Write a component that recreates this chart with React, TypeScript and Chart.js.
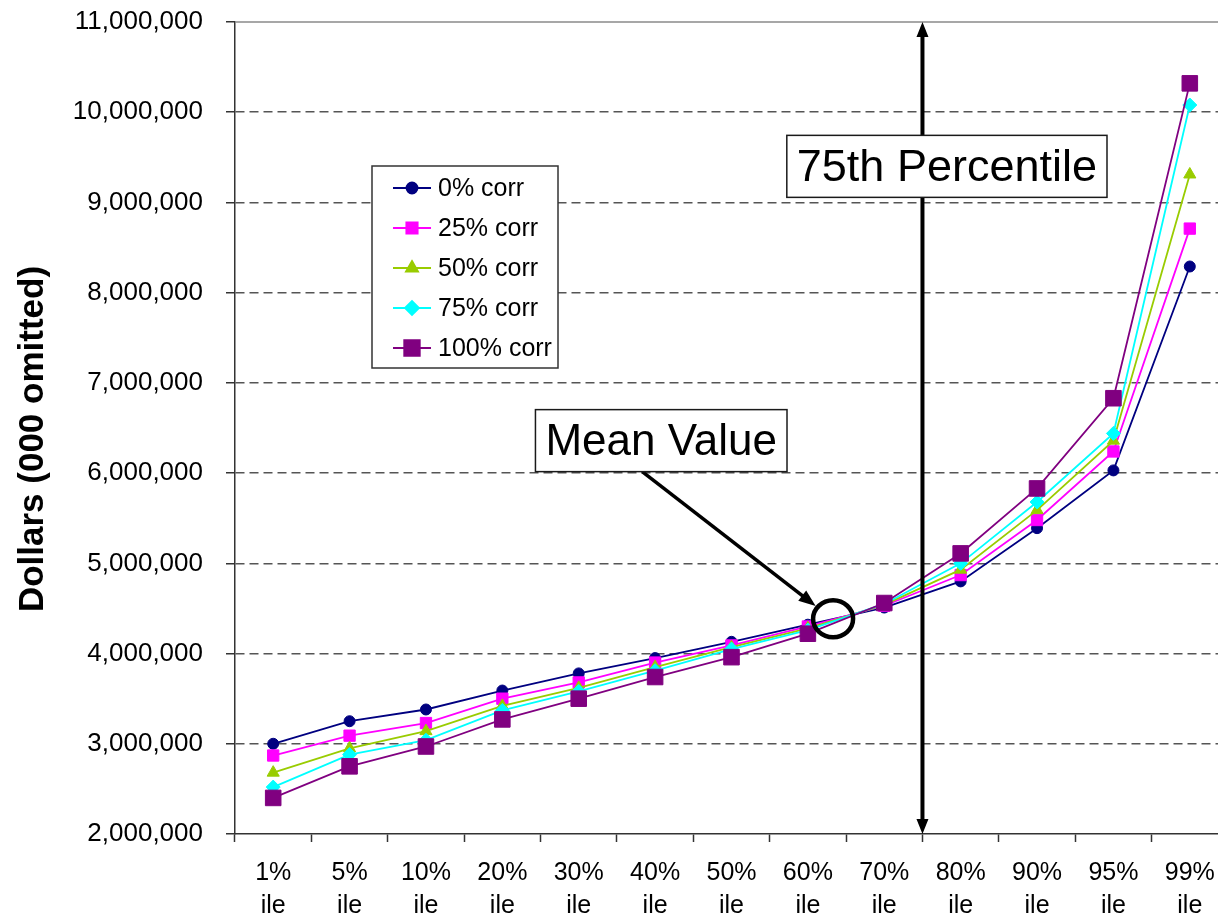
import React, { useEffect, useRef } from 'react';
import { Chart, registerables } from 'chart.js';
import { drawPoint } from 'chart.js/helpers';

Chart.register(...registerables);

const categories: string[][] = [
  ['1%', 'ile'], ['5%', 'ile'], ['10%', 'ile'], ['20%', 'ile'], ['30%', 'ile'],
  ['40%', 'ile'], ['50%', 'ile'], ['60%', 'ile'], ['70%', 'ile'], ['80%', 'ile'],
  ['90%', 'ile'], ['95%', 'ile'], ['99%', 'ile'],
];

const corr0 = [3000000, 3250000, 3380000, 3590000, 3780000, 3950000, 4130000, 4320000, 4510000, 4800000, 5390000, 6030000, 8290000];
const corr25 = [2870000, 3090000, 3230000, 3500000, 3680000, 3900000, 4090000, 4300000, 4530000, 4870000, 5480000, 6240000, 8710000];
const corr50 = [2680000, 2950000, 3140000, 3420000, 3620000, 3850000, 4070000, 4280000, 4540000, 4930000, 5590000, 6360000, 9310000];
const corr75 = [2520000, 2880000, 3040000, 3370000, 3580000, 3810000, 4050000, 4260000, 4550000, 5000000, 5680000, 6440000, 10080000];
const corr100 = [2400000, 2750000, 2970000, 3270000, 3500000, 3740000, 3960000, 4220000, 4560000, 5110000, 5830000, 6830000, 10320000];

const seriesNames = ['0% corr', '25% corr', '50% corr', '75% corr', '100% corr'];

const Y_MIN = 2000000;
const Y_MAX = 11000000;
const Y_STEP = 1000000;

// annotation anchors (in data units)
const MEAN_INDEX = 7.33;
const MEAN_VALUE = 4385000;
const MEAN_LABEL = 'Mean Value';
const MEAN_LABEL_INDEX = 5.08;
const MEAN_LABEL_VALUE = 6360000;
const P75_INDEX = 8.5;
const P75_LABEL = '75th Percentile';
const P75_LABEL_INDEX = 8.82;
const P75_LABEL_VALUE = 9400000;
const Y_TITLE = 'Dollars (000 omitted)';

const FONT = '"Liberation Sans", Arial, sans-serif';

function arrowHead(ctx: CanvasRenderingContext2D, x: number, y: number, ang: number, len: number, wid: number) {
  ctx.beginPath();
  ctx.moveTo(x, y);
  ctx.lineTo(x - len * Math.cos(ang) + (wid / 2) * Math.sin(ang), y - len * Math.sin(ang) - (wid / 2) * Math.cos(ang));
  ctx.lineTo(x - len * Math.cos(ang) - (wid / 2) * Math.sin(ang), y - len * Math.sin(ang) + (wid / 2) * Math.cos(ang));
  ctx.closePath();
  ctx.fill();
}

function textBox(ctx: CanvasRenderingContext2D, text: string, cx: number, cy: number, size: number, padX: number, h: number) {
  ctx.font = `${size}px ${FONT}`;
  const w = ctx.measureText(text).width + padX * 2;
  ctx.fillStyle = '#ffffff';
  ctx.fillRect(cx - w / 2, cy - h / 2, w, h);
  ctx.strokeStyle = '#1a1a1a';
  ctx.lineWidth = 1.5;
  ctx.strokeRect(cx - w / 2, cy - h / 2, w, h);
  ctx.fillStyle = '#000000';
  ctx.textAlign = 'center';
  ctx.textBaseline = 'middle';
  ctx.fillText(text, cx, cy + 2);
  return { x: cx - w / 2, y: cy - h / 2, w, h };
}

const overlay = {
  id: 'overlay',
  beforeDatasetsDraw(chart: any) {
    const { ctx, chartArea, scales } = chart;
    const y = scales.y;
    ctx.save();
    ctx.strokeStyle = '#8a8a8a';
    ctx.lineWidth = 1.5;
    const yt = y.getPixelForValue(Y_MAX);
    ctx.beginPath();
    ctx.moveTo(chartArea.left, yt);
    ctx.lineTo(chartArea.right, yt);
    ctx.stroke();
    ctx.restore();
  },
  afterDatasetsDraw(chart: any) {
    const { ctx, scales } = chart;
    const x = scales.x;
    const y = scales.y;
    ctx.save();

    // 75th percentile vertical double arrow
    const px = x.getPixelForValue(P75_INDEX);
    const top = y.getPixelForValue(Y_MAX);
    const bot = y.getPixelForValue(Y_MIN);
    ctx.strokeStyle = '#000';
    ctx.fillStyle = '#000';
    ctx.lineWidth = 4;
    ctx.beginPath();
    ctx.moveTo(px, top + 12);
    ctx.lineTo(px, bot - 12);
    ctx.stroke();
    arrowHead(ctx, px, top, -Math.PI / 2, 15, 12);
    arrowHead(ctx, px, bot, Math.PI / 2, 15, 12);

    // Mean circle
    const mx = x.getPixelForValue(MEAN_INDEX);
    const my = y.getPixelForValue(MEAN_VALUE);
    ctx.lineWidth = 4.5;
    ctx.beginPath();
    ctx.ellipse(mx, my, 20, 18.5, 0, 0, Math.PI * 2);
    ctx.stroke();

    // Mean label box + arrow
    const lx = x.getPixelForValue(MEAN_LABEL_INDEX);
    const ly = y.getPixelForValue(MEAN_LABEL_VALUE);
    const boxH = 62;
    const sx = lx - 19;
    const sy = ly + boxH / 2;
    const ang = Math.atan2(my - sy, mx - sx);
    const ex = mx - Math.cos(ang) * 22;
    const ey = my - Math.sin(ang) * 21;
    ctx.lineWidth = 3.5;
    ctx.beginPath();
    ctx.moveTo(sx, sy);
    ctx.lineTo(ex - Math.cos(ang) * 12, ey - Math.sin(ang) * 12);
    ctx.stroke();
    arrowHead(ctx, ex, ey, ang, 17, 13);
    textBox(ctx, MEAN_LABEL, lx, ly, 44, 10, boxH);

    // 75th label box
    const qx = x.getPixelForValue(P75_LABEL_INDEX);
    const qy = y.getPixelForValue(P75_LABEL_VALUE);
    textBox(ctx, P75_LABEL, qx, qy, 45, 10, 62);

    ctx.restore();
  },
  afterDraw(chart: any) {
    const { ctx, chartArea } = chart;
    ctx.save();

    // legend
    const lgX = chartArea.left + 137;
    const lgY = chartArea.top + 144;
    const lgW = 186;
    const lgH = 202;
    ctx.fillStyle = '#fff';
    ctx.fillRect(lgX, lgY, lgW, lgH);
    ctx.strokeStyle = '#333';
    ctx.lineWidth = 1.5;
    ctx.strokeRect(lgX, lgY, lgW, lgH);
    chart.data.datasets.forEach((ds: any, i: number) => {
      const ry = lgY + 22 + i * 40;
      ctx.strokeStyle = ds.borderColor;
      ctx.lineWidth = ds.borderWidth;
      ctx.beginPath();
      ctx.moveTo(lgX + 21, ry);
      ctx.lineTo(lgX + 59, ry);
      ctx.stroke();
      ctx.fillStyle = ds.pointBackgroundColor;
      ctx.strokeStyle = ds.borderColor;
      drawPoint(ctx, { pointStyle: ds.pointStyle, radius: ds.pointRadius, borderWidth: 1, rotation: 0 } as any, lgX + 40, ry);
      ctx.fillStyle = '#000';
      ctx.font = `25px ${FONT}`;
      ctx.textAlign = 'left';
      ctx.textBaseline = 'middle';
      ctx.fillText(ds.label, lgX + 66, ry + 1);
    });

    // y title
    ctx.translate(33, 439);
    ctx.rotate(-Math.PI / 2);
    ctx.font = `bold 35px ${FONT}`;
    ctx.fillStyle = '#000';
    ctx.textAlign = 'center';
    ctx.textBaseline = 'middle';
    ctx.fillText(Y_TITLE, 0, 0);
    ctx.restore();
  },
};

export default function App() {
  const ref = useRef<HTMLCanvasElement | null>(null);
  useEffect(() => {
    if (!ref.current) return;
    const series = [corr0, corr25, corr50, corr75, corr100];
    const colors = ['#000080', '#ff00ff', '#99cc00', '#00ffff', '#800080'];
    const styles = ['circle', 'rect', 'triangle', 'rectRot', 'rect'];
    const radii = [5.5, 8, 7, 7, 11];
    const chart = new Chart(ref.current, {
      type: 'line',
      data: {
        labels: categories,
        datasets: series.map((d, i) => ({
          label: seriesNames[i],
          data: d,
          borderColor: colors[i],
          backgroundColor: colors[i],
          pointBackgroundColor: colors[i],
          pointBorderColor: colors[i],
          pointBorderWidth: 1,
          pointStyle: styles[i],
          pointRadius: radii[i],
          borderWidth: 1.8,
          tension: 0,
          order: 4 - i,
        })),
      },
      options: {
        animation: false,
        responsive: false,
        maintainAspectRatio: false,
        layout: { padding: { top: 22, right: 11, left: 0, bottom: 0 } },
        plugins: { legend: { display: false }, tooltip: { enabled: false } },
        scales: {
          x: {
            type: 'category',
            offset: true,
            grid: {
              offset: true,
              drawOnChartArea: false,
              drawTicks: true,
              tickLength: 8,
              tickColor: '#333',
              tickWidth: 1.5,
            },
            border: { display: true, color: '#333', width: 1.5 },
            ticks: {
              color: '#000',
              font: { family: FONT, size: 25, lineHeight: 1.3 },
              padding: 15,
              maxRotation: 0,
              autoSkip: false,
            },
            afterFit: (s: any) => { s.height = 84; },
          },
          y: {
            min: Y_MIN,
            max: Y_MAX,
            grid: {
              color: (c: any) => (c.tick && (c.tick.value === Y_MIN || c.tick.value === Y_MAX) ? 'rgba(0,0,0,0)' : '#555'),
              lineWidth: 1.5,
              drawTicks: true,
              tickLength: 9,
              tickColor: '#333',
              tickWidth: 1.5,
            },
            border: { display: true, color: '#333', width: 1.5, dash: [9, 5] },
            ticks: {
              stepSize: Y_STEP,
              color: '#000',
              padding: 23,
              font: { family: FONT, size: 26 },
              callback: (v: any) => Number(v).toLocaleString('en-US'),
            },
            afterFit: (s: any) => { s.width = 235; s.paddingTop = 0; s.paddingBottom = 0; },
          },
        },
      },
      plugins: [overlay],
    } as any);
    return () => chart.destroy();
  }, []);
  return (
    <div style={{ position: 'fixed', left: 0, top: 0, width: 1218, height: 918, overflow: 'hidden', background: '#fff' }}>
      <canvas ref={ref} width={1240} height={918} style={{ width: 1240, height: 918, display: 'block' }} />
    </div>
  );
}
